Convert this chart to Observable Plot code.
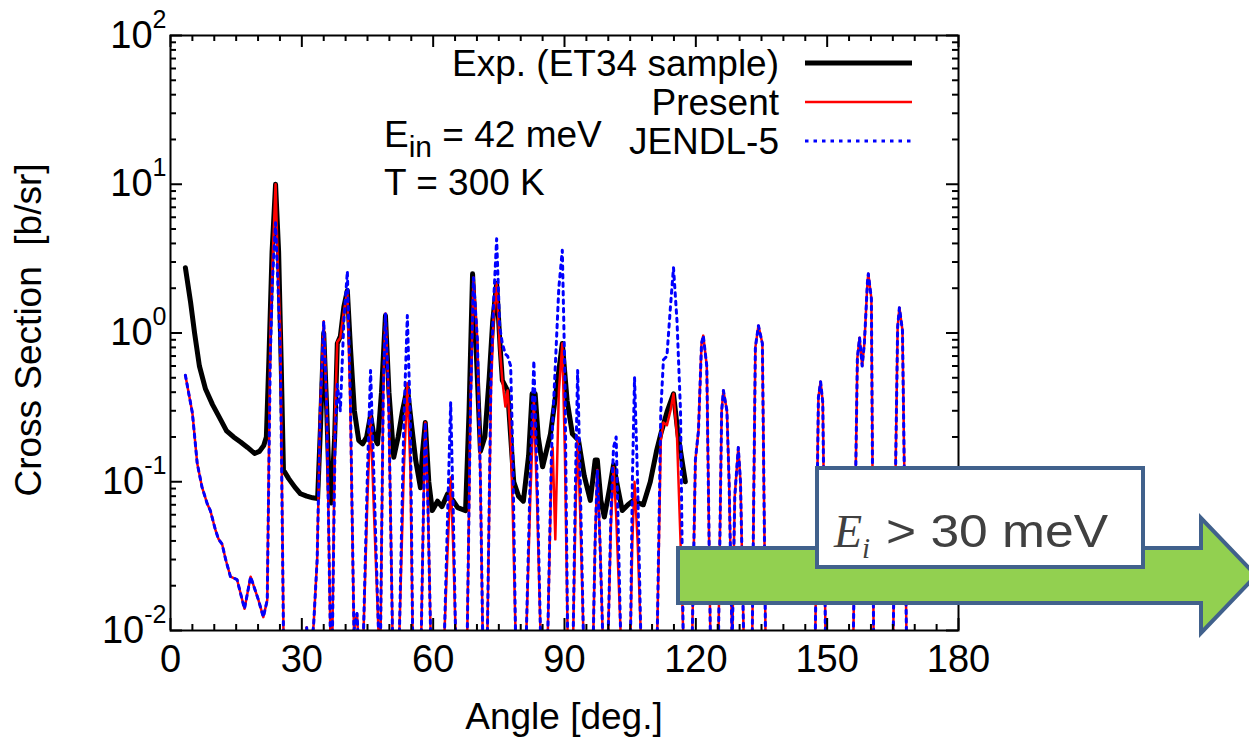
<!DOCTYPE html>
<html>
<head>
<meta charset="utf-8">
<script src="https://cdn.jsdelivr.net/npm/d3@7"></script>
<script src="https://cdn.jsdelivr.net/npm/@observablehq/plot@0.6"></script>
<style>
  body { margin: 0; background: #ffffff; }
  svg { display: block; }
</style>
</head>
<body>
<div id="chart"></div>
<script>
// ---------- data ----------
const modelAngle = [
  3.4, 5.0, 6.1, 7.2, 8.4, 9.1, 10.3, 11.0, 11.8, 12.6, 13.7, 15.2, 16.9, 18.3, 20.1, 21.2, 22.1,
  22.8, 23.3, 24.0, 24.5, 25.1, 25.8, 26.2, 30.5, 31.1, 31.8, 32.7, 33.5, 34.2, 35.0, 35.7, 36.5, 36.7,
  37.0, 37.6, 38.1, 38.8, 39.6, 40.4, 41.1, 41.9, 42.6, 43.3, 44.1, 45.0, 45.7, 46.5, 47.5, 47.8,
  48.0, 48.6, 49.1, 49.8, 50.7, 51.5, 52.3, 53.3, 54.1, 54.8, 55.3, 56.3, 57.3, 57.8, 58.2, 58.8, 59.4,
  61.0, 62.6, 63.3, 64.0, 64.6, 65.1, 66.5, 67.8, 68.5, 69.2, 70.1, 70.8, 71.3, 71.9, 72.4, 73.2, 73.8,
  74.5, 75.2, 75.8, 76.5, 77.0, 77.7, 78.2, 78.8, 80.0, 81.3, 82.2, 83.0, 83.7, 84.5, 85.3, 86.2,
  87.0, 87.3, 87.9, 88.7, 89.5, 90.1, 90.7, 91.3, 92.0, 92.5, 93.0, 93.6, 94.3, 95.4, 96.6, 97.0,
  97.5, 98.1, 98.7, 99.3, 100.0, 100.6, 101.2, 101.8, 102.8, 104.0, 105.1, 105.5, 106.0, 106.7, 107.4,
  109.3, 111.2, 112.0, 112.6, 113.4, 114.2, 114.9, 115.7, 116.5, 117.1, 118.2, 119.2, 119.9, 120.6,
  121.3, 121.7, 122.5, 123.3, 124.3, 125.2, 125.9, 126.3, 127.1, 127.6, 128.3, 128.9, 129.7, 130.2,
  130.9, 131.9, 132.9, 133.6, 134.3, 135.2, 135.9, 136.3, 146.9, 147.3, 148.0, 148.5, 149.0, 149.6,
  150.0, 155.6, 156.0, 156.9, 157.4, 158.0, 158.5, 159.2, 159.4, 160.1, 160.6, 161.0, 164.7, 165.1,
  166.1, 166.5, 167.2, 168.1, 168.5, 180.0
];
const presentValue = [
  0.52, 0.29, 0.133, 0.092, 0.071, 0.064, 0.047, 0.041, 0.038, 0.030, 0.023, 0.022, 0.014, 0.023, 0.016, 0.0123, 0.016,
  1.0, 3.0, 10, 3.0, 1.0, 0.01, 0.003, 0.003, 0.0105, 0.006, 0.011, 0.03, 0.3, 1.2, 0.3, 0.01, 0.007,
  0.01, 0.3, 0.87, 0.93, 1.4, 1.9, 0.3, 0.01, 0.013, 0.005, 0.01, 0.08, 0.28, 0.06, 0.01, 0.006,
  0.01, 0.4, 1.35, 0.4, 0.01, 0.004, 0.01, 0.12, 0.46, 0.12, 0.01, 0.004, 0.01, 0.07, 0.25, 0.07, 0.01,
  0.003, 0.01, 0.035, 0.107, 0.035, 0.01, 0.003, 0.01, 0.3, 2.35, 0.9, 0.1, 0.01, 0.005, 0.01, 0.4, 1.3,
  2.15, 0.8, 0.48, 0.32, 0.41, 0.2, 0.06, 0.01, 0.003, 0.01, 0.08, 0.35, 0.08, 0.01, 0.004, 0.01,
  0.12, 0.17, 0.041, 0.4, 0.85, 0.15, 0.01, 0.005, 0.01, 0.06, 0.2, 0.06, 0.01, 0.003, 0.01, 0.04,
  0.12, 0.04, 0.01, 0.005, 0.01, 0.05, 0.125, 0.06, 0.01, 0.003, 0.01, 0.04, 0.1, 0.04, 0.01,
  0.003, 0.01, 0.19, 0.25, 0.24, 0.3, 0.39, 0.2, 0.04, 0.01, 0.003, 0.01, 0.14, 0.22,
  0.85, 0.96, 0.6, 0.01, 0.003, 0.01, 0.3, 0.41, 0.3, 0.1, 0.008, 0.08, 0.17, 0.1,
  0.01, 0.003, 0.01, 0.8, 1.12, 0.85, 0.01, 0.003, 0.003, 0.01, 0.37, 0.47, 0.34, 0.01,
  0.003, 0.003, 0.01, 0.68, 0.93, 0.6, 0.85, 2.2, 2.5, 1.7, 0.01, 0.003, 0.003, 0.01,
  1.1, 1.48, 1.04, 0.01, 0.003, 0.003
];
const jendlValue = [
  0.52, 0.29, 0.133, 0.092, 0.071, 0.064, 0.047, 0.041, 0.038, 0.030, 0.023, 0.022, 0.014, 0.023, 0.016, 0.0123, 0.016,
  0.7, 2.3, 5.5, 2.3, 0.7, 0.01, 0.003, 0.003, 0.0105, 0.006, 0.011, 0.03, 0.3, 1.2, 0.3, 0.01, 0.007,
  0.01, 0.2, 0.45, 0.3, 1.2, 2.6, 0.35, 0.01, 0.013, 0.005, 0.01, 0.12, 0.56, 0.1, 0.01, 0.006,
  0.01, 0.4, 1.35, 0.4, 0.01, 0.004, 0.01, 0.25, 1.31, 0.25, 0.01, 0.004, 0.01, 0.07, 0.25, 0.07, 0.01,
  0.003, 0.01, 0.06, 0.34, 0.06, 0.01, 0.003, 0.01, 0.3, 2.35, 0.9, 0.1, 0.01, 0.005, 0.01, 0.5, 1.6,
  4.3, 1.1, 0.85, 0.72, 0.7, 0.6, 0.15, 0.01, 0.003, 0.01, 0.12, 0.65, 0.12, 0.01, 0.004, 0.01,
  0.15, 0.25, 0.6, 2.0, 3.6, 0.5, 0.01, 0.005, 0.01, 0.1, 0.56, 0.1, 0.01, 0.003, 0.01, 0.04,
  0.12, 0.04, 0.01, 0.005, 0.01, 0.06, 0.17, 0.2, 0.01, 0.003, 0.01, 0.1, 0.5, 0.1, 0.01,
  0.003, 0.01, 0.3, 0.66, 0.7, 1.5, 2.75, 1.2, 0.3, 0.01, 0.003, 0.01, 0.14, 0.22,
  0.85, 0.96, 0.6, 0.01, 0.003, 0.01, 0.3, 0.41, 0.3, 0.1, 0.008, 0.08, 0.17, 0.1,
  0.01, 0.003, 0.01, 0.8, 1.12, 0.85, 0.01, 0.003, 0.003, 0.01, 0.37, 0.47, 0.34, 0.01,
  0.003, 0.003, 0.01, 0.68, 0.93, 0.6, 0.85, 2.2, 2.5, 1.7, 0.01, 0.003, 0.003, 0.01,
  1.1, 1.48, 1.04, 0.01, 0.003, 0.003
];
const expAngle = [
  3.4, 4.6, 5.5, 6.6, 8.0, 9.6, 11.2, 12.8, 14.4, 16.0, 17.6, 19.2, 20.3, 21.3, 21.9, 22.5, 23.2, 24.0,
  24.7, 25.3, 25.8, 27.0, 28.4, 29.7, 31.1, 32.5, 33.6, 34.3, 35.0, 35.7, 36.3, 36.7, 37.5, 38.1, 38.8,
  39.6, 40.4, 41.1, 42.0, 43.0, 43.9, 44.8, 45.7, 46.5, 47.3, 48.2, 49.1, 49.9, 51.0, 52.0, 53.0, 54.1,
  55.0, 56.0, 57.1, 57.5, 58.2, 59.0, 59.8, 61.0, 62.0, 63.3, 64.5, 65.6, 67.4, 68.2, 69.0, 69.8, 70.8,
  71.8, 72.8, 73.6, 74.5, 75.3, 75.8, 77.0, 78.4, 79.5, 80.6, 81.8, 82.6, 83.3, 84.0, 85.0, 86.8, 88.3,
  89.5, 90.6, 91.8, 93.2, 94.5, 95.9, 97.0, 97.5, 98.3, 99.1, 100.3, 101.2, 102.2, 103.2, 104.5, 105.8,
  106.9, 108.0, 109.6, 111.0, 112.0, 113.5, 114.9, 116.0, 117.6
];
const expValue = [
  2.75, 1.6, 1.0, 0.6, 0.42, 0.33, 0.27, 0.22, 0.20, 0.185, 0.17, 0.155, 0.16, 0.175, 0.2, 0.7, 3.5, 10,
  3.5, 0.6, 0.12, 0.105, 0.092, 0.083, 0.08, 0.078, 0.077, 0.25, 1.0, 0.3, 0.08, 0.072, 0.2, 0.85, 0.95,
  1.5, 1.93, 0.8, 0.3, 0.19, 0.18, 0.2, 0.28, 0.2, 0.18, 0.4, 1.31, 0.4, 0.146, 0.2, 0.3, 0.43,
  0.25, 0.14, 0.091, 0.15, 0.25, 0.1, 0.064, 0.074, 0.068, 0.083, 0.075, 0.067, 0.064, 0.3, 2.5, 0.8, 0.16,
  0.2, 0.5, 1.2, 2.15, 0.8, 0.48, 0.41, 0.10, 0.08, 0.074, 0.15, 0.39, 0.39, 0.2, 0.126, 0.21, 0.45,
  0.85, 0.35, 0.21, 0.19, 0.11, 0.075, 0.14, 0.14, 0.075, 0.058, 0.09, 0.13, 0.09, 0.064, 0.07, 0.075,
  0.072, 0.07, 0.1, 0.16, 0.21, 0.3, 0.39, 0.2, 0.10
];
const seriesNames = ["Exp. (ET34 sample)", "Present", "JENDL-5"];
const xTickValues = [0, 30, 60, 90, 120, 150, 180];
const xMinorTickValues = [5,10,15,20,25,35,40,45,50,55,65,70,75,80,85,95,100,105,110,115,125,130,135,140,145,155,160,165,170,175];
const yTickValues = [0.01, 0.1, 1, 10, 100];
const yMinorTickValues = [2,3,4,5,6,7,8,9].flatMap(m => [0.01, 0.1, 1, 10].map(p => m * p));

// ---------- tables ----------
const model = modelAngle.map((a, i) => ({angle: a, present: presentValue[i], jendl: jendlValue[i]}));
const exp = expAngle.map((a, i) => ({angle: a, value: expValue[i]}));

// ---------- layout ----------
const W = 1249, H = 751;
const mL = 170, mR = 291, mT = 35, mB = 121;
const fw = W - mL - mR, fh = H - mT - mB;
const FONT = "'Liberation Sans', Arial, Helvetica, sans-serif";
const RED = "#ff0000", BLUE = "#0000ff";

const svg = Plot.plot({
  width: W, height: H,
  marginLeft: mL, marginRight: mR, marginTop: mT, marginBottom: mB,
  style: {fontFamily: FONT, fontSize: "38px", color: "black", background: "white"},
  x: {domain: [0, 180]},
  y: {type: "log", domain: [0.01, 100]},
  marks: [
    Plot.line(exp, {x: "angle", y: "value", stroke: "black", strokeWidth: 5, strokeLinejoin: "round", clip: true}),
    Plot.line(model, {x: "angle", y: "present", stroke: RED, strokeWidth: 2.5, clip: true}),
    Plot.line(model, {x: "angle", y: "jendl", stroke: BLUE, strokeWidth: 3, strokeDasharray: "3.5,5", clip: true}),
    Plot.frame({stroke: "black", strokeWidth: 2}),
    Plot.tickX(xTickValues, {x: d => d, insetTop: fh - 12, stroke: "black", strokeWidth: 2}),
    Plot.tickX(xTickValues, {x: d => d, insetBottom: fh - 12, stroke: "black", strokeWidth: 2}),
    Plot.tickX(xMinorTickValues, {x: d => d, insetTop: fh - 6, stroke: "black", strokeWidth: 2}),
    Plot.tickX(xMinorTickValues, {x: d => d, insetBottom: fh - 6, stroke: "black", strokeWidth: 2}),
    Plot.tickY(yTickValues, {y: d => d, insetRight: fw - 12, stroke: "black", strokeWidth: 2}),
    Plot.tickY(yTickValues, {y: d => d, insetLeft: fw - 12, stroke: "black", strokeWidth: 2}),
    Plot.tickY(yMinorTickValues, {y: d => d, insetRight: fw - 6, stroke: "black", strokeWidth: 2}),
    Plot.tickY(yMinorTickValues, {y: d => d, insetLeft: fw - 6, stroke: "black", strokeWidth: 2}),
    Plot.axisX({ticks: xTickValues, tickSize: 0, tickPadding: 15, tickFormat: d => String(d), label: null}),
    Plot.axisY({ticks: yTickValues, tickSize: 0, tickPadding: 4, tickFormat: d => "10^" + Math.round(Math.log10(d)), label: null})
  ]
});

const root = d3.select(svg);

// superscript exponents on the y tick labels
root.selectAll("text").each(function() {
  const t = this.textContent;
  if (t.startsWith("10^")) {
    const e = t.slice(3);
    const s = d3.select(this);
    s.text("10");
    s.append("tspan").attr("dy", "-20").attr("font-size", "25px").text(e);
  }
});

// axis titles
root.append("text")
  .attr("x", mL + fw / 2).attr("y", 729)
  .attr("text-anchor", "middle").attr("font-size", "37px").attr("fill", "black")
  .text("Angle [deg.]");
root.append("text")
  .attr("transform", "translate(41,330) rotate(-90)")
  .attr("text-anchor", "middle").attr("font-size", "37px").attr("fill", "black")
  .attr("xml:space", "preserve")
  .text("Cross Section  [b/sr]");

// legend (inside the frame, top right)
const legendRows = [
  {name: seriesNames[0], y: 63, stroke: "black", width: 5, dash: null},
  {name: seriesNames[1], y: 102, stroke: RED, width: 2.5, dash: null},
  {name: seriesNames[2], y: 141, stroke: BLUE, width: 3, dash: "3.5,5"}
];
const lg = root.append("g").attr("font-size", "37px").attr("fill", "black");
legendRows.forEach(r => {
  lg.append("text").attr("x", 779).attr("y", r.y + 13).attr("text-anchor", "end").text(r.name);
  const ln = lg.append("line").attr("x1", 805).attr("x2", 912).attr("y1", r.y).attr("y2", r.y)
    .attr("stroke", r.stroke).attr("stroke-width", r.width);
  if (r.dash) ln.attr("stroke-dasharray", r.dash);
});

// conditions text
const t1 = root.append("text").attr("x", 384).attr("y", 147).attr("text-anchor", "start")
  .attr("font-size", "37px").attr("fill", "black");
t1.append("tspan").text("E");
t1.append("tspan").attr("dy", 10).attr("font-size", "30px").text("in");
t1.append("tspan").attr("dy", -10).text(" = 42 meV");
root.append("text").attr("x", 384).attr("y", 195).attr("text-anchor", "start")
  .attr("font-size", "37px").attr("fill", "black")
  .text("T = 300 K");

// overlay: arrow and "E_i > 30 meV" box
const EDGE = "#41618c";
const ov = root.append("g");
ov.append("polygon")
  .attr("points", [[678,548],[1201,548],[1201,518],[1256,575.5],[1201,633],[1201,603],[678,603]].map(p => p.join(",")).join(" "))
  .attr("fill", "#92d050").attr("stroke", EDGE).attr("stroke-width", 4).attr("stroke-linejoin", "miter");
ov.append("rect").attr("x", 817).attr("y", 468).attr("width", 326).attr("height", 99)
  .attr("fill", "white").attr("stroke", EDGE).attr("stroke-width", 4);
const t2 = ov.append("text").attr("x", 834).attr("y", 547).attr("text-anchor", "start").attr("fill", "#404040");
t2.append("tspan").attr("font-family", "'Liberation Serif', 'DejaVu Serif', serif").attr("font-style", "italic").attr("font-size", "46px").text("E");
t2.append("tspan").attr("dy", 11).attr("font-family", "'Liberation Serif', 'DejaVu Serif', serif").attr("font-style", "italic").attr("font-size", "29px").text("i");
ov.append("text").attr("x", 886).attr("y", 547).attr("text-anchor", "start").attr("fill", "#404040").attr("font-size", "47px")
  .attr("textLength", 222).attr("lengthAdjust", "spacingAndGlyphs")
  .attr("xml:space", "preserve").text("> 30 meV");

document.getElementById("chart").appendChild(svg);
</script>
</body>
</html>
